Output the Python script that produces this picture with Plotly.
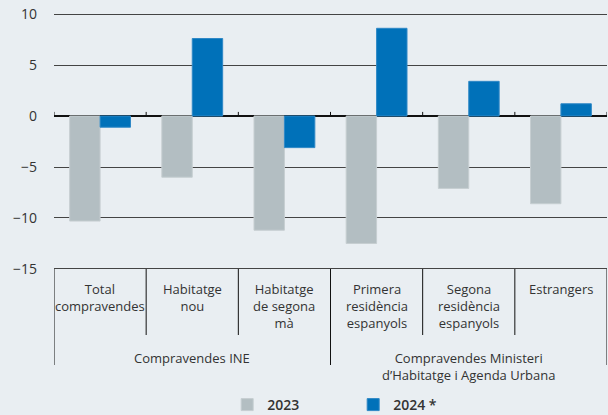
import plotly.graph_objects as go

# ---- data ----
categories = ["Total<br>compravendes", "Habitatge<br>nou", "Habitatge<br>de segona<br>mà",
              "Primera<br>residència<br>espanyols", "Segona<br>residència<br>espanyols", "Estrangers"]
values_2023 = [-10.3, -6.0, -11.2, -12.5, -7.1, -8.6]
values_2024 = [-1.1, 7.6, -3.1, 8.6, 3.4, 1.2]
series_names = ["2023", "2024 *"]
groups = ["Compravendes INE", "Compravendes Ministeri<br>d’Habitatge i Agenda Urbana"]
group_spans = [(0, 2), (3, 5)]
y_ticks = [10, 5, 0, -5, -10, -15]

# ---- styling ----
BG = "#E9EEF2"
GREY = "#B3BEC2"
BLUE = "#0071B9"
TEXT = "#333333"
FONT = "Open Sans"

W, H = 608, 415
ML, MR, MT, MB = 54, 1, 13, 145
plot_h = H - MT - MB
y_lo, y_hi = -15.1, 10.1

def py_to_paper(py):
    return (H - MB - py) / plot_h

x = list(range(len(categories)))

fig = go.Figure()
fig.add_trace(go.Bar(x=x, y=values_2023, name=series_names[0], marker_color=GREY,
                     marker_line=dict(color="#C6CED1", width=1)))
fig.add_trace(go.Bar(x=x, y=values_2024, name=series_names[1], marker_color=BLUE,
                     marker_line=dict(color="#2F88C6", width=1)))

shapes = []
# small ticks on the zero line at category boundaries
bounds = [i - 0.5 for i in range(len(categories) + 1)]
for b in bounds:
    shapes.append(dict(type="line", xref="x", yref="y", x0=b, x1=b, y0=0, y1=0.4,
                       line=dict(color="#111111", width=1)))
# table lines
group_bounds = [group_spans[0][0] - 0.5] + [s[1] + 0.5 for s in group_spans]
for b in bounds:
    is_group = any(abs(b - g) < 1e-9 for g in group_bounds)
    bottom = 365 if is_group else 335
    shapes.append(dict(type="line", xref="x", yref="paper", x0=b, x1=b,
                       y0=py_to_paper(269), y1=py_to_paper(bottom),
                       line=dict(color="#111111", width=1)))

annotations = []
for i, c in enumerate(categories):
    annotations.append(dict(xref="x", yref="paper", x=i, y=py_to_paper(278), yanchor="top",
                            text=c, showarrow=False, font=dict(family=FONT, size=13, color=TEXT)))
for g, (a, b) in zip(groups, group_spans):
    annotations.append(dict(xref="x", yref="paper", x=(a + b) / 2, y=py_to_paper(347), yanchor="top",
                            text=g, showarrow=False, font=dict(family=FONT, size=13, color=TEXT)))

fig.update_layout(
    width=W, height=H,
    margin=dict(l=ML, r=MR, t=MT, b=MB, autoexpand=False),
    paper_bgcolor=BG, plot_bgcolor=BG,
    barmode="group", bargap=0.34, bargroupgap=0,
    font=dict(family=FONT, size=14, color=TEXT),
    xaxis=dict(range=[-0.5, 5.5], showticklabels=False, showgrid=False, zeroline=False,
               showline=False, ticks="", automargin=False),
    yaxis=dict(range=[y_lo, y_hi], tickvals=y_ticks, showgrid=True, gridcolor="#444444",
               gridwidth=1, zeroline=True, zerolinecolor="#111111", zerolinewidth=1.5,
               showline=False, ticks="", ticklabelstandoff=16, automargin=False,
               tickfont=dict(family=FONT, size=14, color=TEXT)),
    showlegend=True,
    legend=dict(orientation="h", x=0.541, xanchor="center", y=py_to_paper(405), yanchor="middle",
                font=dict(family=FONT, size=14, color=TEXT, weight=600),
                entrywidth=81, bgcolor="rgba(0,0,0,0)"),
    shapes=shapes, annotations=annotations,
)

fig.write_html("out.html", config={"displayModeBar": False},
               post_script="document.body.style.margin='0';document.body.style.background='%s';" % BG)
